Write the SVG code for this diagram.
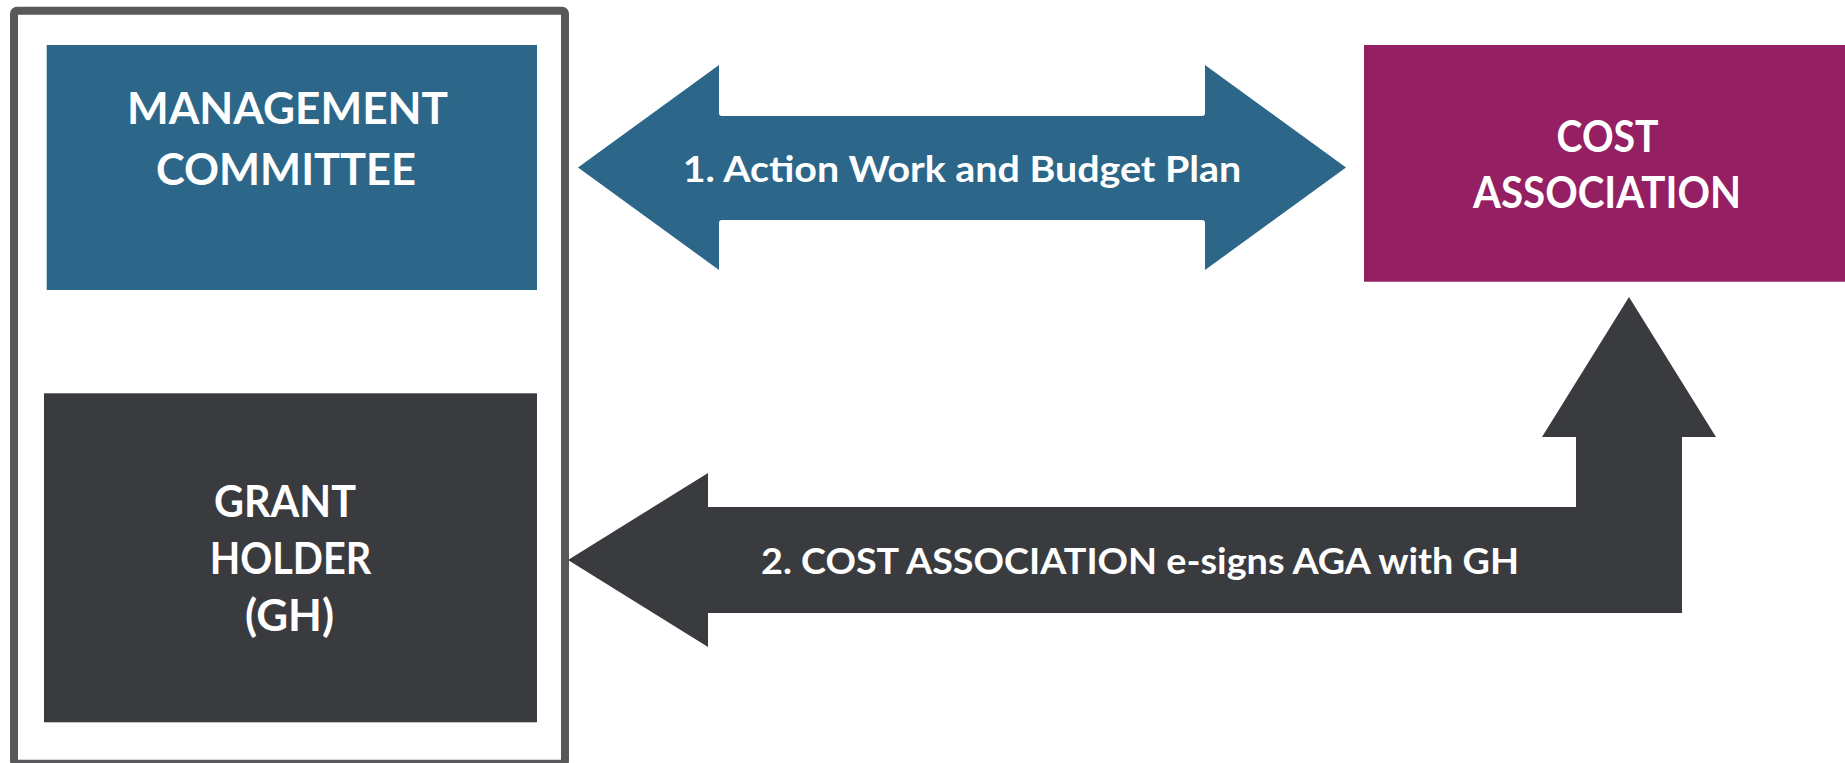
<svg xmlns="http://www.w3.org/2000/svg" width="1845" height="763" viewBox="0 0 1845 763">
  <style>
    .t { font-family: Lato, "Open Sans", "Liberation Sans", sans-serif; font-weight: 700; fill: #FFFFFF; text-anchor: middle; }
    .box { font-size: 44px; }
    .lbl { font-size: 37px; }
  </style>
  <rect width="1845" height="763" fill="#FFFFFF"/>
  <g id="frame">
    <rect x="14" y="10.7" width="551" height="753" rx="3" fill="none" stroke="#58585A" stroke-width="8"/>
  </g>
  <g id="management-committee">
    <rect x="46.7" y="45" width="490.3" height="245" fill="#2C6688"/>
    <text class="t box" x="287.5" y="124" textLength="321" lengthAdjust="spacingAndGlyphs">MANAGEMENT</text>
    <text class="t box" x="286" y="185" textLength="260" lengthAdjust="spacingAndGlyphs">COMMITTEE</text>
  </g>
  <g id="grant-holder">
    <rect x="44" y="393.3" width="493" height="329" fill="#3A3B3F"/>
    <text class="t box" x="285" y="517" font-size="42" textLength="142" lengthAdjust="spacingAndGlyphs">GRANT</text>
    <text class="t box" x="290.5" y="574" font-size="42" textLength="161.5" lengthAdjust="spacingAndGlyphs">HOLDER</text>
    <text class="t box" x="289.5" y="631" font-size="42" textLength="89" lengthAdjust="spacingAndGlyphs">(GH)</text>
  </g>
  <g id="cost-association">
    <rect x="1364" y="45" width="481" height="236.7" fill="#951F63"/>
    <text class="t box" x="1607.6" y="151.7" textLength="102" lengthAdjust="spacingAndGlyphs">COST</text>
    <text class="t box" x="1607" y="208" textLength="268" lengthAdjust="spacingAndGlyphs">ASSOCIATION</text>
  </g>
  <g id="connectors">
    <path d="M578,167.5 L719,65 L719,113 Q719,116 722,116 L1202,116 Q1205,116 1205,113 L1205,65 L1346,167.5 L1205,270 L1205,223 Q1205,220 1202,220 L722,220 Q719,220 719,223 L719,270 Z" fill="#2C6688"/>
    <text class="t lbl" x="962" y="181.7" textLength="558.5" lengthAdjust="spacingAndGlyphs">1. Action Work and Budget Plan</text>
    <path d="M568,560 L708,473 L708,507 L1576,507 L1576,437 L1542,437 L1629,297 L1716,437 L1682,437 L1682,613 L708,613 L708,647 Z" fill="#3A3B3F"/>
    <text class="t lbl" x="1140" y="574" font-size="36" textLength="758" lengthAdjust="spacingAndGlyphs">2. COST ASSOCIATION e-signs AGA with GH</text>
  </g>
</svg>
